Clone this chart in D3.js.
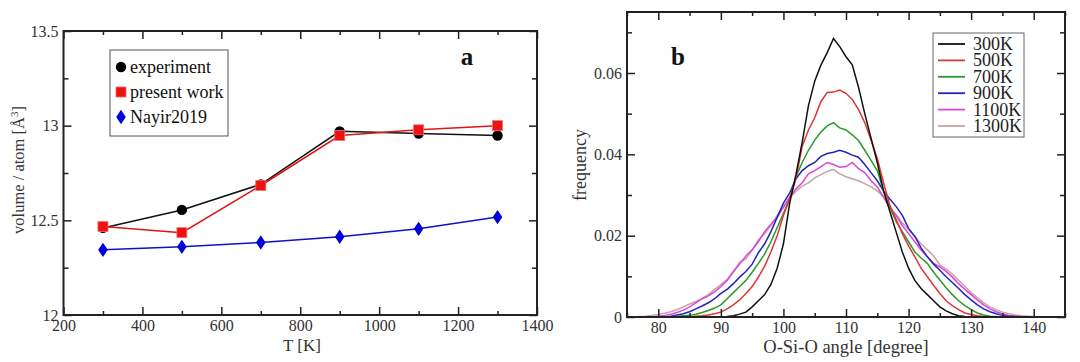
<!DOCTYPE html>
<html lang="en">
<head>
    <meta charset="UTF-8">
    <title>Volume and O-Si-O angle</title>
    <script src="https://d3js.org/d3.v7.min.js"></script>
    <style>
        body { margin: 0; background: #fff; }
        text { font-family: "Liberation Serif", "Times New Roman", serif; fill: #333; }
    </style>
</head>
<body>
    <svg id="chart" width="1080" height="362"></svg>

    <script>
        // panel a data
        const temps = [300, 500, 700, 900, 1100, 1300];
        const experiment = [12.46, 12.555, 12.69, 12.97, 12.958, 12.948];
        const presentWork = [12.467, 12.435, 12.684, 12.948, 12.978, 13.0];
        const nayir2019 = [12.344, 12.36, 12.383, 12.413, 12.455, 12.517];

        const aXTicks = [200, 400, 600, 800, 1000, 1200, 1400];
        const aXMinor = [300, 500, 700, 900, 1100, 1300];
        const aYTicks = [12, 12.5, 13, 13.5];
        const aYMinor = [12.25, 12.75, 13.25];

        // panel b data (angle bins 75..145 deg)
        const angles = d3.range(75, 146);
        const f300 = [0,0,0,0,0,0,0,0,0,0,0,0,0,0,0,0,0.0001,0.0003,0.0007,0.0012,0.0025,0.004,0.0055,0.008,0.012,0.018,0.028,0.035,0.043,0.052,0.058,0.062,0.065,0.0685,0.0665,0.064,0.062,0.0565,0.05,0.044,0.038,0.031,0.026,0.021,0.016,0.012,0.009,0.007,0.0055,0.004,0.0025,0.0015,0.0008,0.0003,0.0001,0,0,0,0,0,0,0,0,0,0,0,0,0,0,0,0];
        const f500 = [0,0,0,0,0,0,0,0,0,0,0,0.0002,0.0003,0.0005,0.0008,0.0012,0.002,0.003,0.0042,0.0058,0.0075,0.0098,0.0125,0.016,0.02,0.025,0.029,0.034,0.042,0.046,0.049,0.053,0.0552,0.0553,0.0558,0.055,0.0535,0.051,0.0478,0.0435,0.039,0.033,0.0275,0.024,0.0205,0.0175,0.0148,0.012,0.0099,0.0078,0.0058,0.004,0.0028,0.0018,0.001,0.0006,0.0003,0.0001,0,0,0,0,0,0,0,0,0,0,0,0,0];
        const f700 = [0,0,0,0,0,0,0,0,0.0002,0.0003,0.0004,0.0007,0.0011,0.0016,0.0022,0.003,0.0045,0.006,0.0075,0.009,0.011,0.0132,0.0155,0.0185,0.022,0.0255,0.029,0.0345,0.038,0.041,0.0435,0.0455,0.047,0.0478,0.0465,0.046,0.0448,0.0434,0.041,0.0385,0.036,0.031,0.027,0.0235,0.021,0.0185,0.016,0.0145,0.0132,0.011,0.0091,0.0072,0.0055,0.004,0.0028,0.0018,0.001,0.0005,0.0002,0.0001,0,0,0,0,0,0,0,0,0,0,0];
        const f900 = [0,0,0,0,0,0,0,0.0002,0.0005,0.0008,0.0013,0.002,0.0027,0.0035,0.0045,0.0058,0.0068,0.0082,0.0098,0.0112,0.013,0.0158,0.018,0.021,0.0245,0.028,0.0305,0.034,0.036,0.0372,0.038,0.0395,0.0402,0.0405,0.041,0.0405,0.0398,0.0393,0.0375,0.0355,0.0335,0.031,0.029,0.0272,0.025,0.0218,0.0198,0.017,0.0148,0.013,0.0115,0.0099,0.0085,0.007,0.0055,0.0042,0.003,0.002,0.0013,0.0008,0.0004,0.0002,0.0001,0,0,0,0,0,0,0,0];
        const f1100 = [0,0,0,0,0,0.0002,0.0004,0.0007,0.0011,0.0017,0.0025,0.0035,0.0045,0.0052,0.0062,0.0075,0.009,0.0112,0.013,0.015,0.0165,0.0185,0.021,0.0228,0.0245,0.027,0.0295,0.0315,0.033,0.0352,0.036,0.037,0.038,0.0375,0.0368,0.037,0.038,0.0365,0.0355,0.0335,0.032,0.0295,0.027,0.025,0.0225,0.0205,0.0185,0.0165,0.0148,0.0132,0.0123,0.0112,0.0098,0.0082,0.0068,0.0055,0.0042,0.003,0.002,0.0013,0.0008,0.0004,0.0002,0.0001,0,0,0,0,0,0,0];
        const f1300 = [0,0,0.0001,0.0002,0.0004,0.0006,0.0009,0.0013,0.0018,0.0025,0.0032,0.0038,0.0045,0.0055,0.0068,0.008,0.0092,0.011,0.0135,0.0142,0.0165,0.019,0.0205,0.0225,0.025,0.027,0.0292,0.031,0.0322,0.033,0.0342,0.035,0.0358,0.0363,0.0352,0.0345,0.034,0.0335,0.0328,0.032,0.031,0.0295,0.0268,0.0252,0.0232,0.0215,0.0198,0.018,0.0165,0.015,0.0128,0.0118,0.0105,0.009,0.0075,0.006,0.0048,0.0035,0.0025,0.0018,0.0012,0.0008,0.0005,0.0003,0.0002,0.0001,0,0,0,0,0];
        const bLabels = ["300K", "500K", "700K", "900K", "1100K", "1300K"];
        const bColors = ["#111111", "#e03535", "#2a9a2a", "#2424bb", "#dd44dd", "#c8a3a3"];
        const bSeries = [f300, f500, f700, f900, f1100, f1300];

        const bXTicks = [80, 90, 100, 110, 120, 130, 140];
        const bXMinor = [75, 85, 95, 105, 115, 125, 135, 145];
        const bYTicks = [0, 0.02, 0.04, 0.06];
        const bYMinor = [0.01, 0.03, 0.05, 0.07];

        const svg = d3.select("#chart");

        // draws inward ticks on all four sides plus the frame
        function frame(g, x, y, xt, xm, yt, ym, yfmt) {
            const [x0, x1] = x.range();
            const [y0, y1] = y.range();
            g.append("g").attr("transform", `translate(0,${y0})`)
                .call(d3.axisBottom(x).tickValues(xt).tickSize(-8).tickPadding(5).tickFormat(d => d));
            g.append("g").attr("transform", `translate(0,${y0})`)
                .call(d3.axisBottom(x).tickValues(xm).tickSize(-4).tickFormat(""));
            g.append("g").attr("transform", `translate(0,${y1})`)
                .call(d3.axisTop(x).tickValues(xt).tickSize(-8).tickFormat(""));
            g.append("g").attr("transform", `translate(0,${y1})`)
                .call(d3.axisTop(x).tickValues(xm).tickSize(-4).tickFormat(""));
            g.append("g").attr("transform", `translate(${x0},0)`)
                .call(d3.axisLeft(y).tickValues(yt).tickSize(-8).tickPadding(5).tickFormat(yfmt));
            g.append("g").attr("transform", `translate(${x0},0)`)
                .call(d3.axisLeft(y).tickValues(ym).tickSize(-5).tickFormat(""));
            g.append("g").attr("transform", `translate(${x1},0)`)
                .call(d3.axisRight(y).tickValues(yt).tickSize(-8).tickFormat(""));
            g.append("g").attr("transform", `translate(${x1},0)`)
                .call(d3.axisRight(y).tickValues(ym).tickSize(-5).tickFormat(""));
            g.selectAll(".domain").remove();
            g.selectAll(".tick line").attr("stroke", "#222").attr("stroke-width", 1.5);
            g.selectAll(".tick text").attr("font-size", 16)
                .attr("font-family", "Liberation Serif").attr("fill", "#333");
            g.append("rect")
                .attr("x", x0).attr("y", y1)
                .attr("width", x1 - x0).attr("height", y0 - y1)
                .attr("fill", "none").attr("stroke", "#222").attr("stroke-width", 2);
        }

        // ---- panel a ----
        const xa = d3.scaleLinear().domain([200, 1400]).range([63.5, 537]);
        const ya = d3.scaleLinear().domain([12, 13.5]).range([315, 31]);
        const ga = svg.append("g");

        const lineA = d3.line().x((d, i) => xa(temps[i])).y(d => ya(d));
        ga.append("path").datum(nayir2019).attr("d", lineA)
            .attr("fill", "none").attr("stroke", "#1010c8").attr("stroke-width", 1.5);
        ga.append("path").datum(experiment).attr("d", lineA)
            .attr("fill", "none").attr("stroke", "#111").attr("stroke-width", 1.5);
        ga.append("path").datum(presentWork).attr("d", lineA)
            .attr("fill", "none").attr("stroke", "#e01515").attr("stroke-width", 1.5);

        ga.selectAll(".dia").data(nayir2019).enter().append("path")
            .attr("d", d3.symbol(d3.symbolDiamond, 60))
            .attr("transform", (d, i) => `translate(${xa(temps[i])},${ya(d)}) scale(1.15,1)`)
            .attr("fill", "#0000dd");
        ga.selectAll(".circ").data(experiment).enter().append("circle")
            .attr("cx", (d, i) => xa(temps[i])).attr("cy", d => ya(d)).attr("r", 5.2)
            .attr("fill", "#000");
        ga.selectAll(".sq").data(presentWork).enter().append("rect")
            .attr("x", (d, i) => xa(temps[i]) - 5).attr("y", d => ya(d) - 5)
            .attr("width", 10).attr("height", 10)
            .attr("fill", "#ee1111").attr("stroke", "#f07070").attr("stroke-width", 0.8);

        frame(ga, xa, ya, aXTicks, aXMinor, aYTicks, aYMinor, d => d3.format("~g")(d));

        // legend a
        ga.append("rect").attr("x", 110).attr("y", 50).attr("width", 118).attr("height", 86)
            .attr("fill", "#fff").attr("stroke", "#555").attr("stroke-width", 1);
        ga.append("circle").attr("cx", 121).attr("cy", 67).attr("r", 5.2).attr("fill", "#000");
        ga.append("rect").attr("x", 116).attr("y", 87).attr("width", 10).attr("height", 10)
            .attr("fill", "#ee1111").attr("stroke", "#f07070").attr("stroke-width", 0.8);
        ga.append("path").attr("d", d3.symbol(d3.symbolDiamond, 60))
            .attr("transform", "translate(121,117) scale(1.15,1)").attr("fill", "#0000dd");
        [["experiment", 67], ["present work", 92], ["Nayir2019", 117]].forEach(([t, yy]) => {
            ga.append("text").attr("x", 130).attr("y", yy + 6).attr("font-size", 18)
                .style("fill", "#111").text(t);
        });

        ga.append("text").attr("x", 467).attr("y", 65).attr("text-anchor", "middle")
            .attr("font-size", 25).attr("font-weight", "bold").style("fill", "#111").text("a");
        ga.append("text").attr("x", 302).attr("y", 351).attr("text-anchor", "middle")
            .attr("font-size", 17).text("T [K]");
        const yl = ga.append("text").attr("transform", "translate(24,170) rotate(-90)")
            .attr("text-anchor", "middle").attr("font-size", 16.5);
        yl.append("tspan").text("volume / atom [Å");
        yl.append("tspan").attr("baseline-shift", "super").attr("font-size", 11).text("3");
        yl.append("tspan").text("]");

        // ---- panel b ----
        const xb = d3.scaleLinear().domain([75, 145]).range([627, 1065]);
        const yb = d3.scaleLinear().domain([0, 0.075]).range([317, 12]);
        const gb = svg.append("g");

        const lineB = d3.line().x((d, i) => xb(angles[i])).y(d => yb(d));
        for (let k = bSeries.length - 1; k >= 0; k--) {
            gb.append("path").datum(bSeries[k]).attr("d", lineB)
                .attr("fill", "none").attr("stroke", bColors[k]).attr("stroke-width", 1.5);
        }

        frame(gb, xb, yb, bXTicks, bXMinor, bYTicks, bYMinor, d => d);

        // legend b
        gb.append("rect").attr("x", 933).attr("y", 33).attr("width", 91).attr("height", 104)
            .attr("fill", "#fff").attr("stroke", "#666").attr("stroke-width", 1);
        bLabels.forEach((t, i) => {
            const yy = 44 + i * 16.4;
            gb.append("line").attr("x1", 938).attr("x2", 965).attr("y1", yy).attr("y2", yy)
                .attr("stroke", bColors[i]).attr("stroke-width", 1.8);
            gb.append("text").attr("x", 973).attr("y", yy + 6).attr("font-size", 18)
                .style("fill", "#222").text(t);
        });

        gb.append("text").attr("x", 678).attr("y", 65).attr("text-anchor", "middle")
            .attr("font-size", 25).attr("font-weight", "bold").style("fill", "#111").text("b");
        gb.append("text").attr("x", 846).attr("y", 353).attr("text-anchor", "middle")
            .attr("font-size", 18.5).text("O-Si-O angle [degree]");
        gb.append("text").attr("transform", "translate(586,165) rotate(-90)")
            .attr("text-anchor", "middle").attr("font-size", 18).text("frequency");
    </script>
</body>
</html>
